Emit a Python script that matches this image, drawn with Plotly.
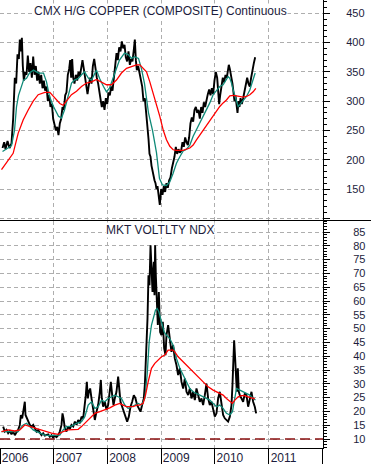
import plotly.graph_objects as go

# ---------------- data (decimal years) ----------------
copper_t = [2006.045, 2006.076, 2006.100, 2006.138, 2006.175, 2006.212, 2006.243, 2006.274, 2006.299, 2006.324,
            2006.349, 2006.367, 2006.386, 2006.405, 2006.423, 2006.442, 2006.467, 2006.492, 2006.516, 2006.541,
            2006.566, 2006.591, 2006.616, 2006.641, 2006.665, 2006.690, 2006.715, 2006.740, 2006.765, 2006.790,
            2006.814, 2006.839, 2006.864, 2006.889, 2006.914, 2006.938, 2006.963, 2006.988, 2007.013, 2007.038,
            2007.063, 2007.087, 2007.112, 2007.137, 2007.162, 2007.187, 2007.212, 2007.236, 2007.261, 2007.286,
            2007.305, 2007.323, 2007.342, 2007.361, 2007.385, 2007.410, 2007.435, 2007.460, 2007.485, 2007.510,
            2007.534, 2007.559, 2007.584, 2007.609, 2007.628, 2007.652, 2007.677, 2007.702, 2007.727, 2007.752,
            2007.776, 2007.801, 2007.826, 2007.851, 2007.876, 2007.894, 2007.919, 2007.944, 2007.969, 2007.994,
            2008.019, 2008.043, 2008.068, 2008.093, 2008.118, 2008.143, 2008.168, 2008.192, 2008.217, 2008.242,
            2008.267, 2008.292, 2008.317, 2008.341, 2008.366, 2008.391, 2008.416, 2008.441, 2008.465, 2008.490,
            2008.509, 2008.528, 2008.546, 2008.571, 2008.596, 2008.621, 2008.646, 2008.670, 2008.695, 2008.720,
            2008.745, 2008.764, 2008.782, 2008.801, 2008.819, 2008.838, 2008.857, 2008.875, 2008.894, 2008.912,
            2008.931, 2008.955, 2008.974, 2008.999, 2009.024, 2009.049, 2009.073, 2009.098, 2009.123, 2009.148,
            2009.173, 2009.198, 2009.222, 2009.247, 2009.272, 2009.297, 2009.322, 2009.347, 2009.371, 2009.396,
            2009.421, 2009.446, 2009.471, 2009.496, 2009.520, 2009.545, 2009.570, 2009.595, 2009.620, 2009.645,
            2009.670, 2009.694, 2009.719, 2009.744, 2009.769, 2009.794, 2009.818, 2009.843, 2009.868, 2009.893,
            2009.918, 2009.943, 2009.967, 2009.992, 2010.017, 2010.042, 2010.060, 2010.079, 2010.098, 2010.123,
            2010.147, 2010.172, 2010.197, 2010.222, 2010.240, 2010.259, 2010.278, 2010.302, 2010.327, 2010.346,
            2010.365, 2010.383, 2010.402, 2010.421, 2010.439, 2010.458, 2010.477, 2010.501, 2010.526, 2010.551,
            2010.576, 2010.601, 2010.625, 2010.650, 2010.675, 2010.700, 2010.725, 2010.750]
copper_v = [220, 230, 218, 232, 220, 228, 270, 340, 330, 380,
            372, 405, 385, 408, 360, 335, 350, 345, 378, 350,
            365, 340, 376, 345, 360, 335, 350, 330, 345, 322,
            335, 318, 325, 300, 310, 290, 296, 270, 260, 250,
            256, 242, 262, 270, 290, 285, 310, 315, 345, 355,
            370, 340, 372, 340, 330, 345, 335, 350, 342, 360,
            370, 355, 340, 325, 312, 328, 340, 330, 360, 372,
            355, 340, 330, 318, 300, 290, 300, 285, 305, 295,
            315, 310, 325, 318, 340, 360, 382, 370, 392, 385,
            402, 390, 396, 375, 368, 385, 362, 372, 368, 388,
            405, 370, 353, 360, 350, 340, 325, 300, 305, 280,
            258, 235, 210, 205, 190, 180, 168, 165, 160, 150,
            155, 140, 123, 150, 140, 155, 145, 160, 152, 165,
            170, 185, 195, 205, 222, 210, 218, 212, 215, 230,
            222, 238, 230, 225, 238, 262, 272, 265, 285, 290,
            280, 285, 270, 290, 280, 298, 290, 305, 312, 320,
            310, 322, 312, 335, 350, 340, 320, 295, 310, 325,
            340, 332, 345, 340, 352, 362, 355, 345, 330, 315,
            300, 310, 292, 280, 300, 290, 305, 295, 305, 318,
            330, 340, 330, 325, 340, 355, 365, 375]

copper_short_t = [2006.045, 2006.156, 2006.212, 2006.268, 2006.305, 2006.343, 2006.398, 2006.436, 2006.492, 2006.547,
                  2006.622, 2006.715, 2006.808, 2006.864, 2006.920, 2006.994, 2007.087, 2007.143, 2007.199, 2007.274,
                  2007.330, 2007.385, 2007.460, 2007.516, 2007.572, 2007.646, 2007.702, 2007.795, 2007.851, 2007.925,
                  2007.981, 2008.037, 2008.112, 2008.168, 2008.223, 2008.317, 2008.391, 2008.447, 2008.503, 2008.577,
                  2008.633, 2008.689, 2008.763, 2008.838, 2008.912, 2008.968, 2009.024, 2009.098, 2009.160, 2009.222,
                  2009.284, 2009.347, 2009.409, 2009.471, 2009.533, 2009.595, 2009.657, 2009.719, 2009.781, 2009.843,
                  2009.905, 2009.967, 2010.029, 2010.091, 2010.153, 2010.215, 2010.246, 2010.278, 2010.309, 2010.340,
                  2010.371, 2010.402, 2010.433, 2010.464, 2010.526, 2010.588, 2010.650, 2010.712, 2010.750]
copper_short_v = [214, 220, 224, 250, 290, 310, 327, 336, 339, 348,
                  353, 348, 348, 333, 308, 291, 274, 271, 285, 311,
                  331, 336, 339, 345, 350, 339, 336, 353, 339, 325,
                  316, 322, 342, 359, 370, 382, 379, 373, 376, 373,
                  355, 330, 280, 250, 212, 168, 157, 156, 162, 177,
                  194, 205, 215, 218, 225, 240, 251, 263, 274, 285,
                  297, 311, 319, 325, 328, 336, 342, 339, 331, 319,
                  308, 297, 291, 294, 302, 308, 319, 336, 348]

copper_long_t = [2006.026, 2006.150, 2006.243, 2006.336, 2006.429, 2006.523, 2006.616, 2006.709, 2006.833, 2006.926,
                 2007.019, 2007.112, 2007.174, 2007.236, 2007.329, 2007.423, 2007.516, 2007.609, 2007.702, 2007.795,
                 2007.888, 2007.981, 2008.074, 2008.167, 2008.260, 2008.354, 2008.447, 2008.540, 2008.602, 2008.664,
                 2008.726, 2008.788, 2008.850, 2008.912, 2008.974, 2009.036, 2009.098, 2009.160, 2009.222, 2009.284,
                 2009.409, 2009.533, 2009.595, 2009.657, 2009.719, 2009.781, 2009.843, 2009.905, 2009.967, 2010.029,
                 2010.091, 2010.153, 2010.215, 2010.278, 2010.340, 2010.402, 2010.464, 2010.526, 2010.588, 2010.650,
                 2010.712, 2010.762]
copper_long_v = [183, 200, 211, 245, 268, 285, 300, 311, 315, 315,
                 305, 296, 293, 300, 311, 317, 325, 331, 333, 337,
                 333, 328, 328, 336, 348, 356, 359, 362, 362, 356,
                 350, 333, 314, 291, 274, 251, 234, 223, 217, 216,
                 216, 220, 225, 234, 242, 251, 260, 268, 274, 282,
                 291, 297, 302, 309, 310, 309, 308, 307, 308, 311,
                 316, 322]

vxn_t = [2006.057, 2006.088, 2006.119, 2006.150, 2006.181, 2006.212, 2006.243, 2006.274, 2006.305, 2006.336,
         2006.367, 2006.386, 2006.411, 2006.436, 2006.460, 2006.473, 2006.498, 2006.523, 2006.554, 2006.585,
         2006.616, 2006.647, 2006.678, 2006.709, 2006.740, 2006.771, 2006.802, 2006.833, 2006.895, 2006.926,
         2006.957, 2006.988, 2007.019, 2007.050, 2007.081, 2007.112, 2007.143, 2007.162, 2007.181, 2007.205,
         2007.236, 2007.267, 2007.298, 2007.329, 2007.361, 2007.392, 2007.423, 2007.454, 2007.485, 2007.516,
         2007.547, 2007.578, 2007.596, 2007.615, 2007.634, 2007.652, 2007.677, 2007.702, 2007.733, 2007.764,
         2007.795, 2007.826, 2007.857, 2007.876, 2007.894, 2007.919, 2007.950, 2007.981, 2008.012, 2008.043,
         2008.062, 2008.087, 2008.112, 2008.136, 2008.167, 2008.198, 2008.217, 2008.242, 2008.273, 2008.304,
         2008.335, 2008.366, 2008.397, 2008.428, 2008.459, 2008.490, 2008.521, 2008.552, 2008.583, 2008.614,
         2008.645, 2008.676, 2008.695, 2008.714, 2008.732, 2008.745, 2008.763, 2008.782, 2008.801, 2008.819,
         2008.838, 2008.850, 2008.863, 2008.875, 2008.887, 2008.900, 2008.918, 2008.937, 2008.956, 2008.980,
         2009.005, 2009.030, 2009.055, 2009.080, 2009.098, 2009.129, 2009.160, 2009.191, 2009.222, 2009.253,
         2009.284, 2009.315, 2009.347, 2009.378, 2009.409, 2009.440, 2009.471, 2009.502, 2009.533, 2009.564,
         2009.595, 2009.626, 2009.657, 2009.688, 2009.719, 2009.750, 2009.781, 2009.812, 2009.843, 2009.874,
         2009.905, 2009.936, 2009.967, 2009.998, 2010.029, 2010.060, 2010.091, 2010.122, 2010.153, 2010.184,
         2010.215, 2010.246, 2010.278, 2010.309, 2010.327, 2010.346, 2010.358, 2010.377, 2010.390, 2010.408,
         2010.427, 2010.445, 2010.464, 2010.495, 2010.526, 2010.557, 2010.588, 2010.619, 2010.650, 2010.681,
         2010.712, 2010.743, 2010.768]
vxn_v = [14.5, 12.7, 13.3, 12.1, 12.9, 11.7, 12.7, 11.4, 12.4, 13.3,
         15.1, 18.7, 17.5, 19.9, 23.5, 18.7, 17.5, 16.3, 15.1, 14.5,
         15.1, 13.9, 12.7, 13.3, 12.1, 11.4, 12.1, 11.2, 11.7, 10.8,
         11.4, 10.5, 11.2, 10.7, 11.4, 12.7, 15.1, 19.3, 17.5, 13.9,
         12.7, 14.5, 13.6, 15.1, 14.5, 16.3, 15.1, 16.9, 15.7, 18.1,
         17.5, 22.3, 25.9, 30.7, 24.7, 27.1, 28.3, 24.7, 19.9, 16.9,
         19.9, 22.3, 27.1, 31.4, 24.7, 21.7, 23.5, 20.5, 22.3, 27.1,
         30.7, 25.9, 22.3, 24.7, 27.1, 32.6, 27.1, 23.5, 21.7, 19.9,
         18.1, 16.3, 18.1, 21.7, 23.5, 25.9, 24.7, 22.3, 21.1, 19.9,
         22.3, 24.7, 29.5, 36.8, 45.2, 53.7, 69.3, 65.7, 80.2, 69.3,
         63.3, 70.6, 74.2, 62.1, 80.2, 69.3, 57.3, 51.3, 63.3, 48.8,
         47.6, 52.5, 42.8, 40.4, 47.6, 51.3, 46.4, 41.6, 44.0, 39.2,
         36.8, 33.2, 35.6, 30.7, 28.3, 31.9, 27.1, 25.9, 28.3, 24.7,
         27.1, 24.1, 28.3, 25.9, 23.5, 24.7, 22.3, 25.9, 30.1, 24.7,
         22.3, 23.5, 21.1, 18.1, 19.3, 24.7, 27.1, 22.3, 18.7, 17.5,
         16.9, 16.3, 18.1, 22.3, 29.5, 36.8, 45.8, 39.2, 31.9, 27.1,
         35.6, 27.1, 25.9, 24.7, 23.5, 26.5, 25.9, 21.7, 24.7, 27.1,
         23.5, 21.7, 19.3]

vxn_short_t = [2006.026, 2006.181, 2006.336, 2006.367, 2006.429, 2006.492, 2006.554, 2006.616, 2006.678, 2006.740,
               2006.833, 2006.926, 2007.019, 2007.112, 2007.174, 2007.236, 2007.329, 2007.423, 2007.516, 2007.578,
               2007.640, 2007.702, 2007.764, 2007.826, 2007.888, 2007.950, 2008.012, 2008.074, 2008.136, 2008.198,
               2008.260, 2008.322, 2008.385, 2008.447, 2008.509, 2008.571, 2008.633, 2008.695, 2008.738, 2008.776,
               2008.819, 2008.863, 2008.894, 2008.925, 2008.956, 2009.005, 2009.055, 2009.098, 2009.160, 2009.222,
               2009.284, 2009.347, 2009.409, 2009.471, 2009.533, 2009.595, 2009.657, 2009.719, 2009.781, 2009.843,
               2009.905, 2009.967, 2010.029, 2010.091, 2010.153, 2010.215, 2010.278, 2010.327, 2010.371, 2010.402,
               2010.464, 2010.526, 2010.588, 2010.650, 2010.712, 2010.756]
vxn_short_v = [12.7, 12.7, 12.7, 13.6, 15.1, 15.7, 14.5, 13.3, 12.7, 12.1,
               11.4, 11.2, 11.2, 11.4, 13.3, 14.5, 14.7, 15.7, 16.3, 18.1,
               22.3, 23.5, 21.1, 21.7, 24.1, 23.5, 24.7, 25.3, 25.9, 25.3,
               24.7, 22.3, 21.1, 21.7, 22.3, 22.9, 22.3, 24.7, 33.2, 45.2,
               51.3, 54.9, 56.7, 57.3, 56.1, 52.5, 48.8, 47.6, 46.4, 44.0,
               39.2, 35.6, 33.2, 30.7, 28.3, 27.1, 26.5, 25.9, 25.3, 24.7,
               24.1, 22.9, 21.7, 22.3, 21.1, 19.3, 18.7, 19.9, 25.9, 28.3,
               27.7, 27.1, 26.5, 25.9, 24.7, 24.1]

vxn_long_t = [2006.026, 2006.150, 2006.274, 2006.367, 2006.460, 2006.554, 2006.647, 2006.740, 2006.833, 2006.957,
              2007.081, 2007.174, 2007.267, 2007.361, 2007.454, 2007.516, 2007.578, 2007.640, 2007.702, 2007.764,
              2007.857, 2007.950, 2008.043, 2008.136, 2008.229, 2008.291, 2008.354, 2008.416, 2008.478, 2008.540,
              2008.602, 2008.664, 2008.708, 2008.757, 2008.819, 2008.881, 2008.944, 2009.005, 2009.067, 2009.129,
              2009.222, 2009.253, 2009.315, 2009.409, 2009.502, 2009.595, 2009.688, 2009.781, 2009.874, 2009.967,
              2010.029, 2010.091, 2010.153, 2010.215, 2010.278, 2010.327, 2010.371, 2010.433, 2010.495, 2010.557,
              2010.619, 2010.681, 2010.743]
vxn_long_v = [12.7, 13.3, 12.9, 13.3, 15.1, 14.5, 13.9, 13.3, 12.7, 12.1,
              11.7, 12.7, 13.3, 13.3, 13.5, 14.5, 15.7, 16.9, 18.1, 19.3,
              19.9, 20.5, 21.3, 22.3, 22.9, 22.3, 21.7, 21.7, 21.7, 22.3,
              22.3, 22.9, 25.9, 30.7, 35.6, 37.4, 38.6, 39.8, 40.4, 42.2,
              42.2, 41.6, 39.8, 38.0, 36.2, 34.4, 32.6, 30.7, 28.9, 27.7,
              27.1, 26.5, 25.9, 24.7, 23.5, 22.9, 24.1, 25.3, 25.7, 25.7,
              25.3, 24.9, 24.5]

year_ticks = [2006, 2007, 2008, 2009, 2010, 2011, 2012]
year_labels = ["2006", "2007", "2008", "2009", "2010", "2011", ""]
copper_ticks = [100, 150, 200, 250, 300, 350, 400, 450]
copper_labels = ["", "150", "200", "250", "300", "350", "400", "450"]
vxn_ticks = [10, 15, 20, 25, 30, 35, 40, 45, 50, 55, 60, 65, 70, 75, 80, 85]
vxn_ref_level = 10
copper_title = "CMX H/G COPPER (COMPOSITE) Continuous"
vxn_title = "MKT VOLTLTY NDX"

# ---------------- styling ----------------
W, H = 371, 464
XR = [2005.998, 2012.013]
XDOM = [0, 323 / W]
TXT = "#1c1c3c"
GRID = "#aeaeae"
FONT = "Liberation Sans, Arial, sans-serif"
BLACK, TEAL, RED = "#000000", "#0f8a78", "#ff0000"

fig = go.Figure()
fig.add_trace(go.Scatter(x=copper_t, y=copper_v, mode="lines", line=dict(color=BLACK, width=1.9), xaxis="x", yaxis="y"))
fig.add_trace(go.Scatter(x=copper_short_t, y=copper_short_v, mode="lines", line=dict(color=TEAL, width=1.3), xaxis="x", yaxis="y"))
fig.add_trace(go.Scatter(x=copper_long_t, y=copper_long_v, mode="lines", line=dict(color=RED, width=1.3), xaxis="x", yaxis="y"))
fig.add_trace(go.Scatter(x=vxn_t, y=vxn_v, mode="lines", line=dict(color=BLACK, width=1.9), xaxis="x2", yaxis="y2"))
fig.add_trace(go.Scatter(x=vxn_short_t, y=vxn_short_v, mode="lines", line=dict(color=TEAL, width=1.3), xaxis="x2", yaxis="y2"))
fig.add_trace(go.Scatter(x=vxn_long_t, y=vxn_long_v, mode="lines", line=dict(color=RED, width=1.3), xaxis="x2", yaxis="y2"))

top_dom = [1 - 220 / H, 1]
bot_dom = [16 / H, 1 - 221 / H]

common_y = dict(side="right", showline=True, linecolor="black", linewidth=1,
                ticks="outside", ticklen=6, tickcolor="black", tickwidth=1,
                showgrid=True, gridcolor=GRID, griddash="4px,3px", gridwidth=1, zeroline=False,
                tickfont=dict(size=11, color=TXT, family=FONT))

fig.update_layout(
    width=W, height=H, margin=dict(l=0, r=0, t=0, b=0, autoexpand=False),
    paper_bgcolor="white", plot_bgcolor="white", showlegend=False,
    font=dict(family=FONT, color=TXT),
    xaxis=dict(domain=XDOM, anchor="y", range=XR, matches="x2", tickmode="array", tickvals=year_ticks,
               showticklabels=False, ticks="", showgrid=True, gridcolor=GRID, griddash="4px,3px",
               zeroline=False, showline=False),
    xaxis2=dict(domain=XDOM, anchor="y2", range=XR, tickmode="array", tickvals=year_ticks, ticktext=year_labels,
                ticks="outside", ticklen=16, tickcolor="black", tickwidth=1, showline=True, linecolor="black",
                showgrid=True, gridcolor=GRID, griddash="4px,3px", zeroline=False,
                ticklabelstandoff=-17, ticklabelshift=15,
                tickfont=dict(size=12, color=TXT, family=FONT)),
    yaxis=dict(common_y, domain=top_dom, anchor="x", range=[97.1, 472.7], tickmode="array",
               tickvals=copper_ticks, ticktext=copper_labels, ticklabelstandoff=14,
               minor=dict(tickmode="linear", tick0=0, dtick=10, ticks="outside", ticklen=3,
                          tickcolor="black", showgrid=False)),
    yaxis2=dict(common_y, domain=bot_dom, anchor="x2", range=[6.74, 89.0], tickmode="array",
                tickvals=vxn_ticks, ticklabelstandoff=21,
                minor=dict(tickmode="linear", tick0=0, dtick=1, ticks="outside", ticklen=3,
                           tickcolor="black", showgrid=False)),
)

fig.add_shape(type="line", xref="paper", yref="paper", x0=0, x1=1, y0=1 - 220.5 / H, y1=1 - 220.5 / H,
              line=dict(color="black", width=1))
fig.add_shape(type="line", xref="paper", yref="y2", x0=0, x1=XDOM[1], y0=vxn_ref_level, y1=vxn_ref_level,
              line=dict(color="#8b1010", width=1.5, dash="10px,5px"))

fig.add_annotation(text=copper_title, xref="paper", yref="paper", x=160 / W, y=1 - 11 / H,
                   xanchor="center", yanchor="middle", showarrow=False, bgcolor="white", borderpad=0,
                   font=dict(size=12, color=TXT, family=FONT))
fig.add_annotation(text=vxn_title, xref="paper", yref="paper", x=160 / W, y=1 - 230 / H,
                   xanchor="center", yanchor="middle", showarrow=False, bgcolor="white", borderpad=0,
                   font=dict(size=12, color=TXT, family=FONT))

fig.write_html("out.html", config={"displayModeBar": False},
               post_script="document.body.style.margin='0';document.body.style.overflow='hidden';")
